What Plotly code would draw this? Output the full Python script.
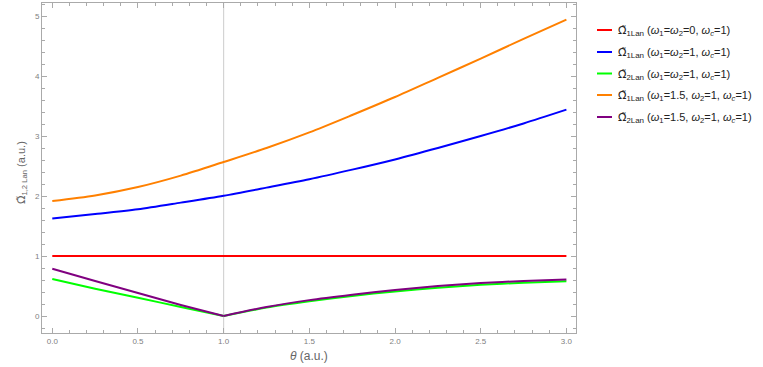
import plotly.graph_objects as go

# ---- data ----
theta = [0.0, 0.25, 0.5, 0.75, 1.0, 1.25, 1.5, 1.75, 2.0, 2.25, 2.5, 2.75, 3.0]
om1_w0 = [1.0, 1.0, 1.0, 1.0, 1.0, 1.0, 1.0, 1.0, 1.0, 1.0, 1.0, 1.0, 1.0]
om1_w1 = [1.627, 1.70, 1.78, 1.89, 2.005, 2.14, 2.28, 2.44, 2.61, 2.80, 3.00, 3.21, 3.44]
om2_w1 = [0.617, 0.455, 0.305, 0.15, 0.0, 0.14, 0.245, 0.335, 0.41, 0.47, 0.52, 0.555, 0.578]
om1_w15 = [1.917, 2.01, 2.15, 2.34, 2.567, 2.80, 3.06, 3.35, 3.65, 3.97, 4.29, 4.62, 4.94]
om2_w15 = [0.788, 0.585, 0.385, 0.185, 0.0, 0.15, 0.265, 0.355, 0.435, 0.50, 0.55, 0.585, 0.61]
kink_theta = 1.0

x_ticks = [0.0, 0.5, 1.0, 1.5, 2.0, 2.5, 3.0]
x_tick_text = ["0.0", "0.5", "1.0", "1.5", "2.0", "2.5", "3.0"]
y_ticks = [0, 1, 2, 3, 4, 5]
y_tick_text = ["0", "1", "2", "3", "4", "5"]

OM = "<span style='font-family:DejaVu Sans'>Ω\u0303</span>"
SUBS = "<span style='font-size:8px'>Lan</span>"
labels = [
    f"{OM}<sub>1{SUBS}</sub> (<i>ω</i><sub>1</sub>=<i>ω</i><sub>2</sub>=0, <i>ω</i><sub><i>c</i></sub>=1)",
    f"{OM}<sub>1{SUBS}</sub> (<i>ω</i><sub>1</sub>=<i>ω</i><sub>2</sub>=1, <i>ω</i><sub><i>c</i></sub>=1)",
    f"{OM}<sub>2{SUBS}</sub> (<i>ω</i><sub>1</sub>=<i>ω</i><sub>2</sub>=1, <i>ω</i><sub><i>c</i></sub>=1)",
    f"{OM}<sub>1{SUBS}</sub> (<i>ω</i><sub>1</sub>=1.5, <i>ω</i><sub>2</sub>=1, <i>ω</i><sub><i>c</i></sub>=1)",
    f"{OM}<sub>2{SUBS}</sub> (<i>ω</i><sub>1</sub>=1.5, <i>ω</i><sub>2</sub>=1, <i>ω</i><sub><i>c</i></sub>=1)",
]
colors = ["#ff0000", "#0000ff", "#00ff00", "#ff8000", "#800080"]
series = [om1_w0, om1_w1, om2_w1, om1_w15, om2_w15]

W, H = 763, 367
L, R, T, B = 42, 187, 3, 34
pw, ph = W - L - R, H - T - B

fig = go.Figure()
k = theta.index(kink_theta)
for i, (ys, c) in enumerate(zip(series, colors)):
    if i in (2, 4):
        fig.add_trace(go.Scatter(x=theta[:k + 1], y=ys[:k + 1], mode="lines",
                                 line=dict(color=c, width=2, shape="spline", smoothing=0.6),
                                 showlegend=False))
        fig.add_trace(go.Scatter(x=theta[k:], y=ys[k:], mode="lines",
                                 line=dict(color=c, width=2, shape="spline", smoothing=0.8),
                                 showlegend=False))
    else:
        fig.add_trace(go.Scatter(x=theta, y=ys, mode="lines",
                                 line=dict(color=c, width=2, shape="spline", smoothing=0.8),
                                 showlegend=False))

# vertical grid line at theta = 1
fig.add_shape(type="line", xref="x", yref="paper", x0=kink_theta, x1=kink_theta, y0=0, y1=1,
              line=dict(color="#cccccc", width=1), layer="below")

# manual legend
leg_y_px = [30, 52, 73.5, 95, 117]
def px_x(p):
    return (p - L) / pw
def px_y(p):
    return (H - B - p) / ph
for lab, c, yp in zip(labels, colors, leg_y_px):
    fig.add_shape(type="line", xref="paper", yref="paper",
                  x0=px_x(597), x1=px_x(612), y0=px_y(yp), y1=px_y(yp),
                  line=dict(color=c, width=2))
    fig.add_annotation(xref="paper", yref="paper", x=px_x(616), y=px_y(yp + 1),
                       xanchor="left", yanchor="middle", showarrow=False, text=lab,
                       font=dict(family="Liberation Sans", size=11, color="#222222"))

# axis titles
fig.add_annotation(xref="paper", yref="paper", x=px_x(309), y=px_y(356),
                   xanchor="center", yanchor="middle", showarrow=False,
                   text="<i>θ</i> (a.u.)",
                   font=dict(family="Liberation Sans", size=12, color="#666666"))
fig.add_annotation(xref="paper", yref="paper", x=px_x(22), y=px_y(173),
                   xanchor="center", yanchor="middle", showarrow=False, textangle=-90,
                   text=f"{OM}<sub>1,2 Lan</sub> (a.u.)",
                   font=dict(family="Liberation Sans", size=11, color="#666666"))

axis_common = dict(showline=True, linecolor="#aaaaaa", linewidth=1, mirror="ticks",
                   ticks="inside", ticklen=5, tickcolor="#aaaaaa", tickwidth=1,
                   showgrid=False, zeroline=False,
                   tickfont=dict(family="Liberation Sans", size=8, color="#808080"))

fig.update_xaxes(range=[-0.06, 3.056], tickvals=x_ticks, ticktext=x_tick_text,
                 minor=dict(ticks="inside", dtick=0.1, tick0=0, ticklen=3,
                            tickcolor="#aaaaaa", showgrid=False),
                 **axis_common)
fig.update_yaxes(range=[-0.283, 5.217], tickvals=y_ticks, ticktext=y_tick_text,
                 minor=dict(ticks="inside", dtick=0.2, tick0=0, ticklen=3,
                            tickcolor="#aaaaaa", showgrid=False),
                 **axis_common)

fig.update_layout(width=W, height=H, margin=dict(l=L, r=R, t=T, b=B),
                  plot_bgcolor="white", paper_bgcolor="white", showlegend=False)

fig.write_html("out.html", config={"displayModeBar": False},
               post_script="document.body.style.margin='0';document.body.style.overflow='hidden';")
